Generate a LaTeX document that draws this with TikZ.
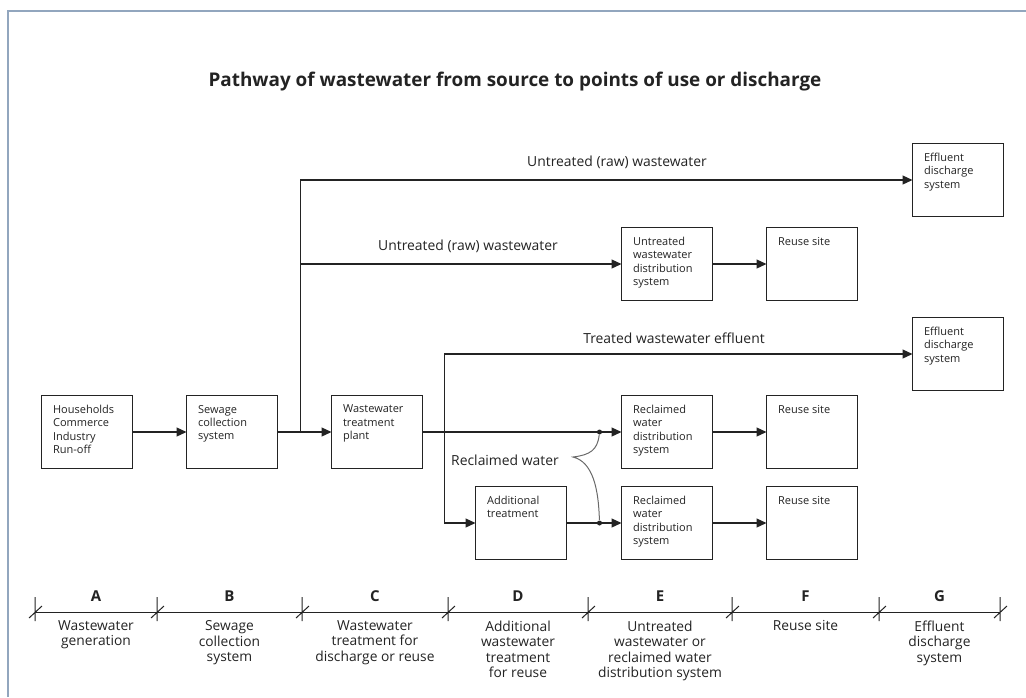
\documentclass[tikz,border=0pt]{standalone}
\usepackage{fontspec}
\setmainfont{Open Sans}
\usetikzlibrary{arrows.meta, positioning, calc}
\definecolor{framegrey}{RGB}{146, 166, 190}
\definecolor{bracegrey}{RGB}{105, 105, 105}
\definecolor{ink}{RGB}{35, 35, 35}

\begin{document}
\begin{tikzpicture}[
        x=1pt, y=-1pt,
        line width=1.2pt, draw=ink, text=ink,
        box/.style={rectangle, draw=ink, line width=1.2pt, outer sep=0pt,
                    minimum width=91pt, minimum height=73pt, inner sep=0pt},
        boxtext/.style={align=left, inner sep=0pt,
                    font=\fontsize{11}{13.3}\selectfont},
        flow/.style={-{Triangle[length=10pt, width=9pt]}, draw=ink, line width=1.2pt},
        lbl/.style={font=\fontsize{13.9}{16}\selectfont, inner sep=0pt},
        stage/.style={font=\fontsize{15}{16}\selectfont\bfseries, inner sep=0pt},
        stagetext/.style={align=center, anchor=north, inner sep=0pt,
                    font=\fontsize{13.8}{15.5}\selectfont},
        joint/.style={circle, fill=ink, inner sep=0pt, minimum size=5pt}
      ]
        \useasboundingbox (0,0) rectangle (1026,697);
        \draw[framegrey, line width=2.5pt] (8,697) |- (1026,11);
        \node[font=\fontsize{18.9}{22}\selectfont\bfseries] (title) at (515,82)
          {Pathway of wastewater from source to points of use or discharge};

        % boxes
        \node[box] (gen) at (87,432) {};
        \node[box, right=54pt of gen]     (sewer) {};
        \node[box, right=54pt of sewer]   (plant) {};
        \node[box, right=199pt of plant]  (rdistA) {};
        \node[box, right=54pt of rdistA]  (reuseB) {};
        \node[box, below=18pt of rdistA]  (rdistB) {};
        \node[box, right=54pt of rdistB]  (reuseC) {};
        \node[box, left=55pt of rdistB]   (extra) {};
        \node[box, above=95pt of rdistA]  (udist) {};
        \node[box, right=54pt of udist]   (reuseA) {};
        \node[box] (effA) at (958,180) {};
        \node[box] (effB) at (958,354) {};

        % box texts
        \node[boxtext, below right=9pt and 11pt of gen.north west]    (gen-t) {Households\\Commerce\\Industry\\Run-off};
        \node[boxtext, below right=9pt and 11pt of sewer.north west]  (sewer-t) {Sewage\\collection\\system};
        \node[boxtext, below right=9pt and 11pt of plant.north west]  (plant-t) {Wastewater\\treatment\\plant};
        \node[boxtext, below right=9pt and 11pt of extra.north west]  (extra-t) {Additional\\treatment};
        \node[boxtext, below right=9pt and 11pt of udist.north west]  (udist-t) {Untreated\\wastewater\\distribution\\system};
        \node[boxtext, below right=9pt and 11pt of rdistA.north west] (rdistA-t) {Reclaimed\\water\\distribution\\system};
        \node[boxtext, below right=9pt and 11pt of rdistB.north west] (rdistB-t) {Reclaimed\\water\\distribution\\system};
        \node[boxtext, below right=9pt and 11pt of reuseA.north west] (reuseA-t) {Reuse site};
        \node[boxtext, below right=9pt and 11pt of reuseB.north west] (reuseB-t) {Reuse site};
        \node[boxtext, below right=9pt and 11pt of reuseC.north west] (reuseC-t) {Reuse site};
        \node[boxtext, below right=9pt and 11pt of effA.north west]   (effA-t) {Effluent\\discharge\\system};
        \node[boxtext, below right=9pt and 11pt of effB.north west]   (effB-t) {Effluent\\discharge\\system};

        % flows
        \coordinate (splitA) at ($(sewer.east)+(23,0)$);
        \coordinate (splitB) at ($(plant.east)+(22,0)$);
        \draw[flow] (gen) -- (sewer);
        \draw[flow] (sewer) -- (plant);
        \draw[flow] (splitA) |- (effA);
        \draw[flow] (splitA |- udist) -- (udist);
        \draw[flow] (udist) -- (reuseA);
        \draw[flow] (plant) -- (rdistA);
        \draw[flow] (splitB) |- (effB);
        \draw[flow] (splitB) |- (extra);
        \draw[flow] (extra) -- (rdistB);
        \draw[flow] (rdistA) -- (reuseB);
        \draw[flow] (rdistB) -- (reuseC);

        \node[lbl] (rawA) at (617,162) {Untreated (raw) wastewater};
        \node[lbl] (rawB) at (468,246) {Untreated (raw) wastewater};
        \node[lbl] (treated) at (674,338) {Treated wastewater effluent};
        \node[lbl] (recl) at (505,460) {Reclaimed water};

        % reclaimed water brace
        \node[joint] (dotA) at ($(rdistA.west)+(-22,0)$) {};
        \node[joint] (dotB) at ($(rdistB.west)+(-22,0)$) {};
        \coordinate (tip) at (573,457);
        \draw[bracegrey, line width=1pt] (dotA) .. controls +(-2,18) and +(17,-2) .. (tip)
          .. controls +(20,5) and +(-1,-34) .. (dotB);

        % stages
        \draw[line width=1pt] (35,612) -- (1000,612);
        \foreach \x in {35,157,302,448,588,732,879,1000}
          \draw[line width=1pt] (\x,597) -- (\x,621) (\x-6,618) -- (\x+7,606);
        \foreach \x/\s/\t in {96/A/{Wastewater\\generation},
                              229.5/B/{Sewage\\collection\\system},
                              375/C/{Wastewater\\treatment for\\discharge or reuse},
                              518/D/{Additional\\wastewater\\treatment\\for reuse},
                              660/E/{Untreated\\wastewater or\\reclaimed water\\distribution system},
                              805.5/F/{Reuse site},
                              939.5/G/{Effluent\\discharge\\system}} {
          \node[stage] (stage-\s) at (\x,596) {\s};
          \node[stagetext] (stage-\s-t) at (\x,620) {\t};
        }
      \end{tikzpicture}
\end{document}
